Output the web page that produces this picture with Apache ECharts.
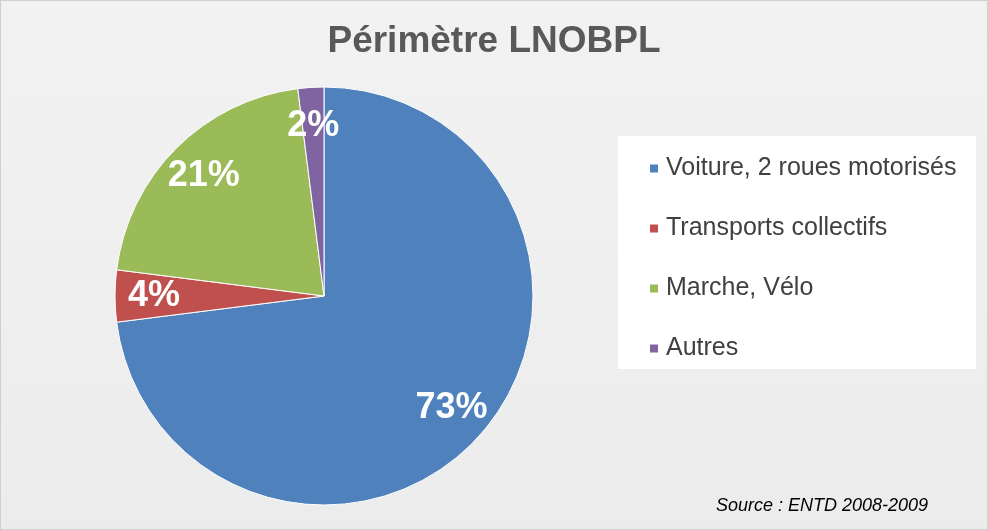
<!DOCTYPE html>
<html><head><meta charset="utf-8">
<script src="https://cdn.jsdelivr.net/npm/echarts@6/dist/echarts.min.js"></script>
<style>html,body{margin:0;padding:0;background:#fff}#c{width:988px;height:530px;box-sizing:border-box;border:1px solid #d0d0d0}</style>
</head><body><div id="c"></div>
<script>
const categories = ["Voiture, 2 roues motorisés", "Transports collectifs", "Marche, Vélo", "Autres"];
const values = [73, 4, 21, 2];
const colors = ["#4f81bd", "#c0504d", "#9bbb59", "#8064a2"];
const data = categories.map((n, i) => ({name: n, value: values[i], itemStyle: {color: colors[i]}}));
const chart = echarts.init(document.getElementById('c'));
chart.setOption({
  backgroundColor: {type:'linear',x:0,y:0,x2:0,y2:1,colorStops:[{offset:0,color:'#f2f2f2'},{offset:1,color:'#ececec'}]},
  animation: false,
  title: {text: 'Périmètre LNOBPL', left: 'center', top: 17,
    textStyle: {fontFamily: 'Liberation Sans', fontWeight: 'bold', fontSize: 37, color: '#595959'}},
  graphic: [
    {type:'rect', shape:{x:617,y:135,width:358,height:233}, style:{fill:'#fff'}, z:-1},
    {type:'text', left: 715, top: 496, style:{text:'Source : ENTD 2008-2009', font:'italic 18px "Liberation Sans"', fill:'#000'}}
  ],
  legend: {orient:'vertical', left: 642, top: 150, itemGap: 35, itemWidth: 10, itemHeight: 10, icon: 'rect',
    textStyle: {fontFamily:'Liberation Sans', fontSize: 25, color:'#404040', padding:[0,0,0,2]},
    data: categories},
  series: [
    {type:'pie', center:[323,295], radius:[0,209], startAngle:90, clockwise:true, data: data,
      label:{show:false}, labelLine:{show:false}, silent:true,
      itemStyle:{borderColor:'#fff', borderWidth:1}},
    {type:'pie', center:[323,295], radius:[0,334], startAngle:90, clockwise:true, silent:true,
      data: categories.map((n,i)=>({name:n, value:values[i], itemStyle:{color:'rgba(0,0,0,0)'}})),
      label:{show:true, position:'inside', formatter:'{c}%', color:'#fff', fontFamily:'Liberation Sans', fontWeight:'bold', fontSize:36},
      labelLine:{show:false}, legendHoverLink:false, z: 5}
  ]
});
</script></body></html>
